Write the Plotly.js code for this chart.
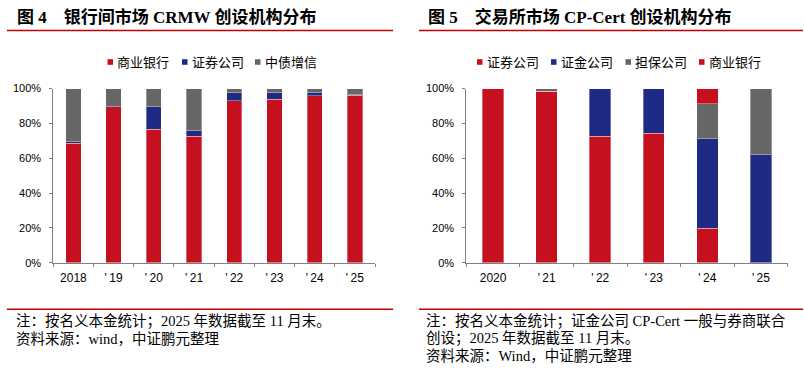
<!DOCTYPE html>
<html>
<head>
<meta charset="utf-8">
<script src="https://cdn.plot.ly/plotly-3.0.1.min.js"></script>
<style>html,body{margin:0;padding:0;background:#fff;}#chart{width:804px;height:370px;}</style>
</head>
<body>
<div id="chart"></div>
<script>
// ---- Data: Figure 4 (CRMW, interbank market) ----
const catsL = ["2018", "'\u200919", "'\u200920", "'\u200921", "'\u200922", "'\u200923", "'\u200924", "'\u200925"];
const bankL = [68.5, 89.4, 76.5, 72.5, 93.1, 93.7, 95.8, 96.0];   // 商业银行
const secL  = [1.0, 0, 12.9, 3.2, 4.4, 3.8, 1.7, 0.4];            // 证券公司
const cbiL  = [30.5, 10.6, 10.6, 24.3, 2.5, 2.5, 2.5, 3.6];       // 中债增信

// ---- Data: Figure 5 (CP-Cert, exchange market) ----
const catsR = ["2020", "'\u200921", "'\u200922", "'\u200923", "'\u200924", "'\u200925"];
const secR  = [100, 98.5, 72.5, 74.4, 19.7, 0];   // 证券公司
const csfR  = [0, 0, 27.5, 25.6, 51.4, 61.9];     // 证金公司
const guaR  = [0, 1.5, 0, 0, 20.2, 38.1];         // 担保公司
const bankR = [0, 0, 0, 0, 8.7, 0];               // 商业银行

const namesL = ["商业银行", "证券公司", "中债增信"];
const namesR = ["证券公司", "证金公司", "担保公司", "商业银行"];
const yTicks = [0, 20, 40, 60, 80, 100];
const yTickText = ["0%", "20%", "40%", "60%", "80%", "100%"];

// ---- Styles ----
const RED = "#C5111F", BLUE = "#1F2A84", GRAY = "#666666";
const W = 804, H = 370;
const X = px => px / W, Y = py => 1 - py / H;
const edge = {color: "rgba(255,255,255,0.35)", width: 1};

function bar(x, y, name, color, xa, ya, width) {
  return {type: "bar", x: x, y: y, name: name, xaxis: xa, yaxis: ya,
          marker: {color: color, line: edge}, width: width, showlegend: false,
          hoverinfo: "x+y+name"};
}

const data = [
  bar(catsL, bankL, namesL[0], RED, "x", "y", 0.38),
  bar(catsL, secL, namesL[1], BLUE, "x", "y", 0.38),
  bar(catsL, cbiL, namesL[2], GRAY, "x", "y", 0.38),
  bar(catsR, secR, namesR[0], RED, "x2", "y2", 0.40),
  bar(catsR, csfR, namesR[1], BLUE, "x2", "y2", 0.40),
  bar(catsR, guaR, namesR[2], GRAY, "x2", "y2", 0.40),
  bar(catsR, bankR, namesR[3], RED, "x2", "y2", 0.40)
];

const tickFontX = {family: "Liberation Sans, Arial, sans-serif", size: 12, color: "#000"};
const tickFontY = {family: "Liberation Sans, Arial, sans-serif", size: 11, color: "#000"};
function xAxis(dom, anchor) {
  return {domain: dom, anchor: anchor, type: "category", showgrid: false, zeroline: false,
          showline: true, linecolor: "#808080", linewidth: 1.5, ticks: "outside", tickson: "boundaries",
          ticklen: 3, tickcolor: "#808080", tickfont: tickFontX, fixedrange: true,
          ticklabelstandoff: 3};
}
function yAxis(dom, anchor) {
  return {domain: dom, anchor: anchor, range: [0, 100], tickmode: "array", tickvals: yTicks,
          ticktext: yTickText,
          showgrid: false, zeroline: false, showline: true, linecolor: "#808080", linewidth: 1,
          ticks: "outside", ticklen: 3, tickcolor: "#808080", tickfont: tickFontY, fixedrange: true,
          ticklabelstandoff: 6};
}
const yDom = [Y(262.7), Y(88.5)];

const titleFont = {family: "Liberation Serif, Noto Sans CJK SC, serif", size: 17, color: "#000"};
const noteFont = {family: "Liberation Serif, Noto Sans CJK SC, serif", size: 14.5, color: "#000"};
const legFont = {family: "Liberation Sans, Noto Sans CJK SC, sans-serif", size: 13, color: "#000"};

const ann = [];
function txt(t, px, py, font) {
  ann.push({text: t, x: X(px), y: Y(py), xref: "paper", yref: "paper", xanchor: "left",
            yanchor: "middle", showarrow: false, font: font});
}
txt("<b>图 4\u3000银行间市场 CRMW 创设机构分布</b>", 15, 17, titleFont);
txt("<b>图 5\u3000交易所市场 CP-Cert 创设机构分布</b>", 426, 17, titleFont);

txt("注：按名义本金统计；2025 年数据截至 11 月末。", 14, 321, noteFont);
txt("资料来源：wind，中证鹏元整理", 14, 339, noteFont);
txt("注：按名义本金统计；证金公司 CP-Cert 一般与券商联合", 424, 321, noteFont);
txt("创设；2025 年数据截至 11 月末。", 424, 338.5, noteFont);
txt("资料来源：Wind，中证鹏元整理", 424, 356, noteFont);

const shapes = [];
function hline(x0, x1, py) {
  shapes.push({type: "line", xref: "paper", yref: "paper", x0: X(x0), x1: X(x1), y0: Y(py), y1: Y(py),
               line: {color: "#C00000", width: 1.5}});
}
hline(7, 393, 30.5); hline(419, 803, 30.5);
hline(7, 393, 309.3); hline(419, 803, 309.3);

// legend items (marker square + label)
function legItem(name, color, px, py) {
  shapes.push({type: "rect", xref: "paper", yref: "paper", x0: X(px), x1: X(px + 5.5),
               y0: Y(py + 2.8), y1: Y(py - 2.8), fillcolor: color, line: {width: 0}});
  txt(name, px + 7.5, py, legFont);
}
const legL = [[namesL[0], RED, 107.5], [namesL[1], BLUE, 182], [namesL[2], GRAY, 255]];
legL.forEach(d => legItem(d[0], d[1], d[2], 62));
const legR = [[namesR[0], RED, 477], [namesR[1], BLUE, 551], [namesR[2], GRAY, 625.5], [namesR[3], RED, 699]];
legR.forEach(d => legItem(d[0], d[1], d[2], 62));

const layout = {
  width: W, height: H, autosize: false,
  margin: {l: 0, r: 0, t: 0, b: 0, pad: 0},
  paper_bgcolor: "#fff", plot_bgcolor: "rgba(0,0,0,0)",
  barmode: "stack", bargap: 0.6, showlegend: false,
  font: {family: "Liberation Sans, Noto Sans CJK SC, sans-serif", color: "#000"},
  xaxis: xAxis([X(53.3), X(375)], "y"),
  yaxis: yAxis(yDom, "x"),
  xaxis2: xAxis([X(466.3), X(787.7)], "y2"),
  yaxis2: yAxis(yDom, "x2"),
  annotations: ann, shapes: shapes
};
Plotly.newPlot("chart", data, layout, {displayModeBar: false, staticPlot: true});
</script>
</body>
</html>
